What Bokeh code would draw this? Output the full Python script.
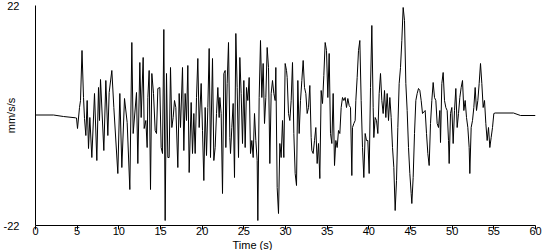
from bokeh.plotting import figure
from bokeh.models import Range1d, FixedTicker, SingleIntervalTicker, Title
from bokeh.embed import file_html
from bokeh.resources import INLINE

# Time (s)
time_s = [
    0.0, 2.16, 3.36, 4.8, 4.92, 5.04, 5.28, 5.4, 5.58, 5.76,
    5.88, 6.04, 6.2, 6.36, 6.52, 6.76, 7.08, 7.36, 7.56, 7.68,
    7.8, 8.2, 8.44, 8.68, 8.84, 9.16, 9.4, 9.88, 10.12, 10.36,
    10.68, 11.0, 11.32, 11.56, 11.72, 12.12, 12.28, 12.52, 12.68, 12.92,
    13.04, 13.24, 13.4, 13.48, 13.64, 13.8, 13.96, 14.16, 14.36, 14.52,
    14.68, 14.92, 15.08, 15.24, 15.4, 15.56, 15.72, 15.88, 16.04, 16.2,
    16.36, 16.52, 16.68, 16.84, 17.08, 17.24, 17.4, 17.64, 17.8, 17.96,
    18.12, 18.28, 18.44, 18.68, 18.84, 19.0, 19.16, 19.32, 19.48, 19.64,
    19.88, 20.04, 20.2, 20.36, 20.52, 20.68, 20.84, 21.0, 21.24, 21.4,
    21.56, 21.72, 21.88, 22.04, 22.12, 22.28, 22.44, 22.6, 22.76, 22.84,
    23.0, 23.16, 23.32, 23.4, 23.56, 23.72, 23.88, 24.04, 24.2, 24.36,
    24.52, 24.68, 24.84, 25.0, 25.16, 25.32, 25.48, 25.64, 25.8, 25.96,
    26.12, 26.28, 26.44, 26.6, 26.68, 26.84, 27.0, 27.16, 27.32, 27.48,
    27.64, 27.8, 27.96, 28.12, 28.28, 28.44, 28.6, 28.76, 28.84, 29.0,
    29.16, 29.32, 29.48, 29.64, 29.8, 29.96, 30.12, 30.2, 30.36, 30.52,
    30.68, 30.84, 31.0, 31.16, 31.32, 31.48, 31.64, 31.8, 31.96, 32.12,
    32.28, 32.44, 32.6, 32.76, 32.92, 33.08, 33.16, 33.32, 33.48, 33.64,
    33.8, 33.96, 34.12, 34.28, 34.44, 34.6, 34.76, 34.92, 35.08, 35.24,
    35.4, 35.56, 35.72, 35.88, 36.04, 36.2, 36.36, 36.52, 36.68, 36.84,
    37.0, 37.16, 37.32, 37.48, 37.64, 37.8, 37.96, 38.04, 38.2, 38.36,
    38.44, 38.6, 38.76, 38.92, 39.08, 39.24, 39.4, 39.56, 39.72, 39.88,
    40.04, 40.2, 40.36, 40.52, 40.6, 40.76, 40.92, 41.08, 41.24, 41.4,
    41.56, 41.72, 41.88, 42.04, 42.2, 42.36, 42.52, 42.68, 42.84, 43.0,
    43.16, 43.32, 43.48, 43.64, 43.8, 43.96, 44.12, 44.28, 44.44, 44.6,
    44.76, 44.92, 45.08, 45.16, 45.32, 45.48, 45.64, 45.8, 45.96, 46.12,
    46.28, 46.44, 46.76, 46.92, 47.08, 47.24, 47.4, 47.56, 47.72, 47.88,
    48.04, 48.2, 48.36, 48.52, 48.6, 48.76, 48.92, 49.08, 49.24, 49.4,
    49.56, 49.64, 49.8, 49.96, 50.12, 50.28, 50.44, 50.6, 50.76, 50.92,
    51.08, 51.24, 51.4, 51.56, 51.72, 51.88, 52.04, 52.12, 52.28, 52.44,
    52.6, 52.76, 52.92, 53.08, 53.24, 53.4, 53.56, 53.72, 53.88, 54.04,
    54.2, 54.36, 54.52, 54.68, 54.84, 55.0, 55.16, 57.36, 58.2, 60.0,
]

# Acceleration (mm/s/s)
accel = [
    0.1, 0.1, -0.2, -0.46, -0.5, -2.6, 1.6, 3.0, 13.0, 3.6,
    -0.6, -4.0, 3.0, -6.6, -0.4, -8.4, 4.4, -9.0, 5.6, -1.0,
    7.2, -7.0, 7.0, -4.0, 4.6, 9.0, 1.6, -11.6, 4.4, -10.4,
    3.4, -1.4, -14.8, 14.6, -3.6, 4.6, -9.6, 10.6, -0.4, 11.6,
    -2.6, -1.0, -6.4, 3.6, 9.0, -14.8, 8.4, 4.4, -3.0, -3.6,
    5.4, 5.6, -6.4, -7.6, 17.2, -21.0, 8.4, -8.4, -8.4, 9.6,
    -2.4, -0.4, 3.0, 1.6, -10.4, 4.4, -2.4, 9.6, -7.0, 4.4,
    -1.0, 10.0, -11.4, 2.6, -7.6, 0.4, -7.6, 3.6, 11.4, -2.4,
    6.4, -3.0, -13.0, 1.6, -8.0, 1.6, 13.4, -8.4, 11.4, -9.0,
    -6.4, 0.4, 5.6, -0.4, 3.6, 0.4, -15.6, 8.4, 9.0, -6.4,
    6.4, 14.6, -4.4, -7.6, -2.4, 2.4, -12.4, 16.4, 5.6, -8.4,
    11.6, 4.4, -5.6, 7.0, -6.4, 5.6, 3.0, 7.6, -7.6, -5.0,
    -8.4, 0.4, -5.0, -9.0, -21.0, 3.6, 15.0, 3.6, 10.4, -1.6,
    3.6, 13.6, 9.6, -9.6, 4.4, 7.0, 4.4, 3.0, 9.6, -14.4,
    -19.6, -5.6, -8.4, -1.0, -8.4, 10.4, 9.0, 7.6, 0.4, -1.0,
    3.0, 10.6, -3.6, -11.6, -14.0, 7.0, -3.6, 3.0, 7.0, 11.0,
    5.6, 4.4, 0.4, 1.6, 6.0, -4.4, -7.0, -7.6, -5.0, -2.4,
    -9.6, -5.6, -12.6, 5.0, 2.4, 8.0, 14.6, 13.0, 3.6, 12.4,
    -3.6, -5.6, 4.4, -10.0, -5.0, -6.4, -3.0, -3.6, 1.6, 3.6,
    3.0, 3.6, 1.6, 3.4, 2.0, 1.6, -12.0, -2.4, -1.6, -1.0,
    3.0, 7.6, 13.0, 15.0, 3.0, -6.4, -12.4, -3.6, -5.0, -5.0,
    -11.6, 5.6, 18.0, 1.6, -4.4, -0.4, -1.0, -3.6, 4.4, 8.4,
    3.0, 0.4, 5.0, -0.4, 4.4, -1.0, 3.6, -0.4, -6.4, -10.4,
    -19.0, -13.0, -2.4, 6.4, 9.6, 15.0, 21.6, 19.0, 6.4, 1.0,
    -6.4, -11.6, -15.6, -17.6, -12.4, -3.6, 3.0, 4.4, 5.4, 5.0,
    3.0, 0.4, 1.0, -3.6, -7.6, -10.0, -1.6, 3.0, 6.6, 3.6,
    3.0, -1.6, -2.4, 1.0, -5.4, 6.4, 8.6, 3.0, 1.6, 1.0,
    -5.0, -9.6, 0.4, 1.6, -5.6, 1.0, 5.4, -2.4, 0.4, 3.6,
    5.6, 7.0, 1.0, 3.0, -0.4, -2.4, -6.4, -11.6, -2.4, -1.0,
    1.6, 5.6, 1.0, 3.0, 6.4, 10.4, 6.4, 1.6, 3.0, -1.6,
    -5.0, -2.4, -6.4, -4.4, -2.4, 0.4, 0.5, 0.5, 0.0, 0.0,
]

y_ticks = [-22, 22]
y_tick_labels = {-22: "-22", 22: "22"}
x_label = "Time (s)"
y_label = "mm/s/s"

FONT = "Liberation Sans"

p = figure(width=550, height=250, output_backend="svg", toolbar_location=None,
           x_range=Range1d(0, 60), y_range=Range1d(-22, 22),
           min_border_left=35, min_border_right=15, min_border_top=5, min_border_bottom=25)
p.outline_line_color = None
p.grid.visible = False
p.background_fill_color = "white"
p.border_fill_color = "white"

p.line(time_s, accel, line_color="black", line_width=1)

xa = p.xaxis[0]
xa.ticker = SingleIntervalTicker(interval=5, num_minor_ticks=0)
xa.major_tick_out = 4
xa.major_tick_in = 0
xa.minor_tick_line_color = None
xa.major_label_standoff = -3
xa.axis_line_color = "black"
xa.major_tick_line_color = "black"
xa.major_label_text_font = FONT
xa.major_label_text_font_size = "11px"
xa.major_label_text_color = "black"

ya = p.yaxis[0]
ya.ticker = FixedTicker(ticks=y_ticks)
ya.major_label_overrides = y_tick_labels
ya.major_tick_out = 0
ya.major_tick_in = 0
ya.minor_tick_line_color = None
ya.major_tick_line_color = None
ya.major_label_standoff = 16
ya.axis_line_color = "black"
ya.major_label_text_font = FONT
ya.major_label_text_font_size = "11px"
ya.major_label_text_color = "black"
ya.axis_label = y_label
ya.axis_label_standoff = -16
ya.axis_label_text_font = FONT
ya.axis_label_text_font_size = "11px"
ya.axis_label_text_font_style = "normal"
ya.axis_label_text_color = "black"

p.add_layout(Title(text=x_label, align="left", offset=197, standoff=-2,
                   text_font=FONT, text_font_size="11px", text_font_style="normal",
                   text_color="black"), "below")

open("out.html", "w").write(file_html(p, INLINE))
